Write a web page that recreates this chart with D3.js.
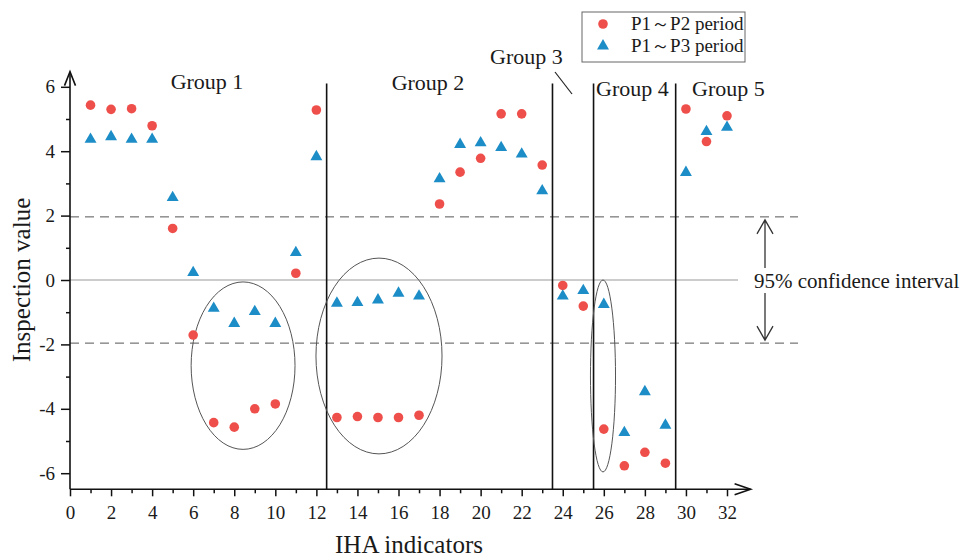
<!DOCTYPE html>
<html>
<head>
<meta charset="utf-8">
<script src="https://cdn.jsdelivr.net/npm/d3@7/dist/d3.min.js"></script>
<style>
  html, body { margin: 0; padding: 0; background: #ffffff; }
  svg { display: block; }
  text { font-family: "Liberation Serif", "Times New Roman", serif; fill: #1a1a1a; }
</style>
</head>
<body>
<svg id="chart" width="964" height="560"></svg>
<script>
// ---------------- data ----------------
const indicators = d3.range(1, 33);
const p1p2 = [5.43, 5.30, 5.32, 4.79, 1.60, -1.71, -4.43, -4.57, -4.00, -3.85, 0.21, 5.28,
              -4.27, -4.24, -4.27, -4.27, -4.20, 2.36, 3.35, 3.78, 5.16, 5.16, 3.57,
              -0.17, -0.81, -4.63, -5.77, -5.35, -5.69, 5.31, 4.30, 5.10];
const p1p3 = [4.37, 4.45, 4.37, 4.37, 2.56, 0.23, -0.88, -1.35, -0.98, -1.35, 0.85, 3.83,
              -0.72, -0.70, -0.62, -0.41, -0.50, 3.14, 4.21, 4.26, 4.11, 3.91, 2.77,
              -0.50, -0.33, -0.76, -4.74, -3.47, -4.51, 3.34, 4.61, 4.74];
const seriesNames = ["P1\uFF5EP2 period", "P1\uFF5EP3 period"];
const xTicks = d3.range(0, 33, 2);
const xMinorTicks = d3.range(1, 32, 2);
const yTicks = [-6, -4, -2, 0, 2, 4, 6];
const yMinorTicks = [-5, -3, -1, 1, 3, 5];
const groupBounds = [12.5, 23.5, 25.5, 29.5];
const groupNames = ["Group 1", "Group 2", "Group 3", "Group 4", "Group 5"];
const confidenceLimit = 1.96;
// circled clusters: [centre x, centre y, radius x, radius y] in data units
const clusters = [[8.43, -2.66, 2.53, 2.6], [15.05, -2.36, 3.07, 3.04], [25.96, -2.98, 0.61, 2.98]];

// ---------------- setup ----------------
const svg = d3.select("#chart");
const red = "#ef4f4b", blue = "#1c8dc6";
const x = d3.scaleLinear().domain([0, 32]).range([70, 727]);
const y = d3.scaleLinear().domain([-6, 6]).range([473.2, 86.8]);
const xMin = 0, xMax = 33.15, yMin = -6.5, yMax = 6.47;
const fmt = d => String(d);

// reference lines
svg.append("line").attr("x1", x(0)).attr("x2", 738).attr("y1", y(0)).attr("y2", y(0))
  .attr("stroke", "#9a9a9a").attr("stroke-width", 1.2);
[confidenceLimit, -confidenceLimit].forEach(v => {
  svg.append("line").attr("x1", x(0)).attr("x2", 798).attr("y1", y(v)).attr("y2", y(v))
    .attr("stroke", "#555").attr("stroke-width", 1).attr("stroke-dasharray", "9,6");
});

// group dividers
svg.selectAll("line.div").data(groupBounds).enter().append("line")
  .attr("x1", d => x(d)).attr("x2", d => x(d))
  .attr("y1", y(yMin)).attr("y2", y(6.1))
  .attr("stroke", "#111").attr("stroke-width", 1.6);

// clusters
svg.selectAll("ellipse").data(clusters).enter().append("ellipse")
  .attr("cx", d => x(d[0])).attr("cy", d => y(d[1]))
  .attr("rx", d => x(d[2]) - x(0)).attr("ry", d => y(0) - y(d[3]))
  .attr("fill", "none").attr("stroke", "#555").attr("stroke-width", 1);

// axes
const gx = svg.append("g").attr("transform", `translate(0,${y(yMin)})`);
gx.call(d3.axisBottom(x).tickValues(xTicks).tickSize(7).tickPadding(9).tickFormat(fmt));
gx.append("g").call(d3.axisBottom(x).tickValues(xMinorTicks).tickSize(4).tickFormat(""));
gx.selectAll(".domain").remove();
gx.selectAll("line").attr("stroke", "#111").attr("stroke-width", 1.5);
gx.selectAll("text").style("font-size", "19px").style("font-family", "Liberation Serif").attr("fill", "#1a1a1a");

const gy = svg.append("g").attr("transform", `translate(${x(0)},0)`);
gy.call(d3.axisLeft(y).tickValues(yTicks).tickSize(9).tickPadding(6).tickFormat(fmt));
gy.append("g").call(d3.axisLeft(y).tickValues(yMinorTicks).tickSize(4).tickFormat(""));
gy.selectAll(".domain").remove();
gy.selectAll("line").attr("stroke", "#111").attr("stroke-width", 1.5);
gy.selectAll("text").style("font-size", "19px").style("font-family", "Liberation Serif").attr("fill", "#1a1a1a");

// axis lines with open arrowheads
const axisStyle = s => s.attr("fill", "none").attr("stroke", "#111").attr("stroke-width", 1.6);
svg.append("path").call(axisStyle)
  .attr("d", `M${x(xMin)},${y(yMin)}H${x(xMax)}`);
svg.append("path").call(axisStyle)
  .attr("d", `M${x(xMax) - 16},${y(yMin) - 5.5}L${x(xMax)},${y(yMin)}L${x(xMax) - 16},${y(yMin) + 5.5}`);
svg.append("path").call(axisStyle)
  .attr("d", `M${x(0)},${y(yMin)}V${y(yMax)}`);
svg.append("path").call(axisStyle)
  .attr("d", `M${x(0) - 5.5},${y(yMax) + 14}L${x(0)},${y(yMax)}L${x(0) + 5.5},${y(yMax) + 14}`);

// markers
const tri = d3.symbol().type(d3.symbolTriangle).size(62);
svg.append("g").selectAll("circle").data(p1p2).enter().append("circle")
  .attr("cx", (d, i) => x(indicators[i])).attr("cy", d => y(d)).attr("r", 4.8).attr("fill", red);
svg.append("g").selectAll("path").data(p1p3).enter().append("path")
  .attr("d", tri).attr("transform", (d, i) => `translate(${x(indicators[i])},${y(d)})`).attr("fill", blue);

// group labels
const gl = [
  {t: groupNames[0], x: 207, y: 89, a: "middle"},
  {t: groupNames[1], x: 428, y: 90, a: "middle"},
  {t: groupNames[2], x: 490, y: 64, a: "start"},
  {t: groupNames[3], x: 596, y: 96, a: "start"},
  {t: groupNames[4], x: 692, y: 96, a: "start"}
];
svg.selectAll("text.grp").data(gl).enter().append("text")
  .attr("x", d => d.x).attr("y", d => d.y).attr("text-anchor", d => d.a)
  .style("font-size", "22px").text(d => d.t);
svg.append("line").attr("x1", 555).attr("y1", 72).attr("x2", 572).attr("y2", 94)
  .attr("stroke", "#222").attr("stroke-width", 1.2);

// confidence interval annotation
const ax = 765;
svg.append("path").attr("fill", "none").attr("stroke", "#333").attr("stroke-width", 1.3)
  .attr("d", `M${ax},268V${y(confidenceLimit) + 3}M${ax - 8},${y(confidenceLimit) + 17}L${ax},${y(confidenceLimit) + 3}L${ax + 8},${y(confidenceLimit) + 17}`);
svg.append("path").attr("fill", "none").attr("stroke", "#333").attr("stroke-width", 1.3)
  .attr("d", `M${ax},293V${y(-confidenceLimit) - 3}M${ax - 8},${y(-confidenceLimit) - 17}L${ax},${y(-confidenceLimit) - 3}L${ax + 8},${y(-confidenceLimit) - 17}`);
svg.append("text").attr("x", 754).attr("y", 288).style("font-size", "21px").text("95% confidence interval");

// axis titles
svg.append("text").attr("x", 409).attr("y", 553).attr("text-anchor", "middle")
  .style("font-size", "25px").text("IHA indicators");
svg.append("text").attr("transform", "translate(30,280) rotate(-90)").attr("text-anchor", "middle")
  .style("font-size", "25px").text("Inspection value");

// legend
const lg = svg.append("g");
lg.append("rect").attr("x", 582).attr("y", 12).attr("width", 163).attr("height", 50)
  .attr("fill", "#fff").attr("stroke", "#666").attr("stroke-width", 1);
lg.append("circle").attr("cx", 603).attr("cy", 24).attr("r", 4.8).attr("fill", red);
lg.append("path").attr("d", tri).attr("transform", "translate(603,46)").attr("fill", blue);
lg.selectAll("text").data(seriesNames).enter().append("text")
  .attr("x", 631).attr("y", (d, i) => 30 + i * 22).style("font-size", "19px").text(d => d);
</script>
</body>
</html>
